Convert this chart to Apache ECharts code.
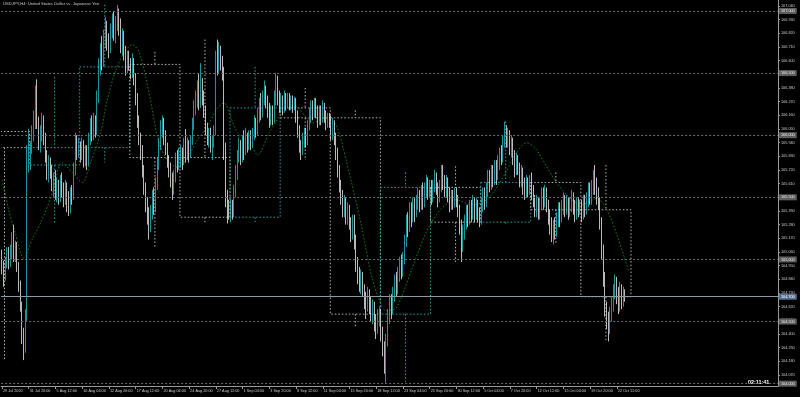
<!DOCTYPE html>
<html><head><meta charset="utf-8">
<script src="https://cdn.jsdelivr.net/npm/echarts@6/dist/echarts.min.js"></script>
<style>html,body{margin:0;padding:0;background:#000;}#c{width:800px;height:397px;}</style>
</head><body><div id="c"></div>
<script>
// H4 bars: [open, close, low, high]
const bars = [
[105.02,104.94,104.88,105.08],[104.94,104.86,104.78,104.99],[104.86,104.98,104.83,105.02],[104.98,105.06,104.93,105.10],
[105.06,104.97,104.92,105.10],[104.97,105.05,104.94,105.12],[105.05,105.12,105.00,105.22],[105.12,105.03,104.98,105.28],
[105.03,105.10,104.98,105.15],[105.10,104.95,104.90,105.14],[104.95,104.80,104.74,104.98],[104.80,104.62,104.58,104.83],
[104.62,104.40,104.32,104.66],[104.40,104.30,104.19,104.45],[104.30,104.55,104.25,104.60],[104.55,105.80,104.50,105.92],
[105.80,105.84,105.70,106.05],
[105.80,105.90,105.72,105.95],[105.90,106.00,105.85,106.08],[106.00,106.12,105.95,106.20],[106.12,106.30,106.05,106.40],
[106.30,106.10,106.05,106.45],[106.10,105.94,105.88,106.15],[105.94,106.00,105.86,106.08],[106.00,106.12,105.95,106.18],
[106.12,105.98,105.92,106.16],[105.98,105.84,105.78,106.02],[105.84,105.70,105.64,105.88],[105.70,105.78,105.62,105.84],
[105.78,105.70,105.65,105.82],[105.70,105.60,105.55,105.76],[105.60,105.66,105.50,105.70],[105.66,105.52,105.48,105.72],
[105.52,105.60,105.46,105.66],[105.60,105.50,105.44,105.64],[105.50,105.62,105.46,105.68],[105.62,105.56,105.50,105.70],
[105.56,105.48,105.42,105.62],[105.48,105.58,105.44,105.64],[105.58,105.50,105.38,105.62],[105.50,105.42,105.35,105.55],
[105.42,105.55,105.37,105.58],[105.55,105.50,105.44,105.60],[105.50,105.72,105.48,105.78],[105.72,105.95,105.68,106.02],
[105.95,105.86,105.80,106.00],[105.86,105.92,105.82,105.98],
[105.90,105.85,105.78,105.95],[105.85,105.92,105.80,105.98],[105.92,105.80,105.74,105.96],[105.80,105.88,105.75,105.92],
[105.88,105.78,105.72,105.92],[105.78,105.96,105.75,106.02],[105.96,106.08,105.92,106.14],[106.08,106.00,105.95,106.16],
[106.00,106.12,105.96,106.18],[106.12,106.04,105.98,106.16],[106.04,106.30,106.00,106.36],[106.30,106.55,106.26,106.62],
[106.55,106.66,106.48,106.74],[106.66,106.60,106.52,106.80],[106.60,106.78,106.55,106.85],[106.78,106.88,106.70,106.95],
[106.88,106.74,106.68,106.92],[106.74,106.70,106.62,106.82],[106.70,106.84,106.66,106.90],[106.84,106.92,106.78,106.98],
[106.92,106.80,106.76,107.00],[106.80,106.90,106.74,106.96],[106.90,106.96,106.84,107.05],[106.96,106.88,106.80,107.02],
[106.88,106.72,106.66,106.94],[106.72,106.80,106.64,106.86],[106.80,106.66,106.60,106.84],[106.66,106.56,106.48,106.72],
[106.56,106.62,106.50,106.68],[106.62,106.58,106.52,106.68],
[106.58,106.52,106.45,106.62],[106.52,106.58,106.46,106.66],[106.58,106.46,106.40,106.62],[106.46,106.30,106.24,106.50],
[106.30,106.12,106.06,106.34],[106.12,105.98,105.92,106.16],[105.98,105.88,105.80,106.02],[105.88,105.72,105.66,105.92],
[105.72,105.58,105.52,105.76],[105.58,105.44,105.38,105.62],[105.44,105.36,105.28,105.50],[105.36,105.30,105.16,105.42],
[105.30,105.38,105.22,105.44],[105.38,105.50,105.32,105.56],[105.50,105.42,105.36,105.58],[105.42,105.60,105.38,105.66],
[105.60,105.76,105.56,105.82],[105.76,105.92,105.72,105.98],[105.92,106.06,105.88,106.12],[106.06,106.10,105.98,106.16],
[106.10,105.98,105.92,106.14],[105.98,105.90,105.84,106.04],[105.90,105.80,105.74,105.94],[105.80,105.74,105.66,105.84],
[105.74,105.64,105.58,105.78],[105.64,105.58,105.48,105.70],[105.58,105.66,105.52,105.72],[105.66,105.80,105.62,105.86],
[105.80,105.76,105.70,105.88],[105.76,105.82,105.72,105.90],
[105.80,105.86,105.74,105.92],[105.86,105.80,105.72,105.90],[105.80,105.88,105.76,105.98],[105.88,105.84,105.78,106.05],
[105.84,105.92,105.80,105.98],[105.92,105.86,105.78,105.96],[105.86,105.96,105.82,106.00],[105.96,106.10,105.92,106.14],
[106.10,106.22,106.04,106.28],[106.22,106.30,106.16,106.36],[106.30,106.38,106.22,106.44],[106.38,106.26,106.20,106.50],
[106.26,106.40,106.22,106.58],[106.40,106.32,106.24,106.46],[106.32,106.20,106.14,106.36],[106.20,106.06,106.00,106.24],
[106.06,105.98,105.92,106.10],[105.98,106.02,105.90,106.06],[106.02,105.92,105.86,106.06],[105.92,105.96,105.80,106.00],
[105.96,106.04,105.90,106.08],[106.04,106.62,106.00,106.68],[106.62,106.56,106.48,106.77],[106.56,106.66,106.50,106.75],
[106.66,106.58,106.52,106.72],[106.58,106.50,106.44,106.64],[106.50,105.90,105.80,106.55],[105.90,105.50,105.42,105.94],
[105.50,105.40,105.29,105.56],[105.40,105.36,105.32,105.48],
[105.36,105.42,105.30,105.48],[105.42,105.38,105.32,105.48],[105.38,105.56,105.34,105.60],[105.56,105.70,105.50,105.76],
[105.70,105.84,105.64,105.88],[105.84,105.92,105.78,105.98],[105.92,105.84,105.76,105.96],[105.84,105.94,105.78,106.00],
[105.94,105.88,105.80,106.04],[105.88,105.98,105.84,106.06],[105.98,105.92,105.86,106.02],[105.92,106.00,105.88,106.04],
[106.00,105.94,105.88,106.04],[105.94,106.02,105.90,106.06],[106.02,106.10,105.96,106.16],[106.10,106.04,105.98,106.14],
[106.04,106.16,106.00,106.22],[106.16,106.24,106.10,106.30],[106.24,106.18,106.12,106.34],[106.18,106.30,106.14,106.36],
[106.30,106.36,106.24,106.44],[106.36,106.28,106.22,106.40],[106.28,106.22,106.14,106.32],[106.22,106.12,106.06,106.26],
[106.12,106.20,106.08,106.24],[106.20,106.14,106.08,106.24],[106.14,106.30,106.10,106.36],[106.30,106.42,106.24,106.50],
[106.42,106.30,106.24,106.48],[106.30,106.24,106.18,106.36],
[106.24,106.28,106.18,106.34],[106.28,106.22,106.16,106.32],[106.22,106.30,106.18,106.36],[106.30,106.26,106.20,106.34],
[106.26,106.30,106.22,106.34],[106.30,106.24,106.20,106.34],[106.24,106.28,106.20,106.32],[106.28,106.24,106.18,106.32],
[106.24,106.27,106.20,106.31],[106.27,106.16,106.10,106.30],[106.16,106.04,105.98,106.20],[106.04,105.92,105.86,106.08],
[105.92,105.88,105.80,105.96],[105.88,105.96,105.84,106.02],[105.96,106.02,105.90,106.06],[106.02,105.96,105.90,106.06],
[105.96,106.08,105.92,106.12],[106.08,106.16,106.04,106.22],[106.16,106.24,106.10,106.28],[106.24,106.18,106.12,106.28],
[106.18,106.26,106.14,106.30],[106.26,106.20,106.14,106.30],[106.20,106.12,106.06,106.24],[106.12,106.20,106.08,106.24],
[106.20,106.14,106.08,106.24],[106.14,106.22,106.10,106.28],[106.22,106.16,106.10,106.26],[106.16,106.10,106.04,106.20],
[106.10,106.14,106.06,106.18],[106.14,106.12,106.06,106.18],
[106.10,106.02,105.96,106.16],[106.02,106.08,105.96,106.14],[106.08,105.98,105.92,106.12],[105.98,105.86,105.80,106.02],
[105.86,105.72,105.66,105.90],[105.72,105.60,105.54,105.76],[105.60,105.52,105.44,105.64],[105.52,105.40,105.34,105.56],
[105.40,105.46,105.34,105.52],[105.46,105.34,105.28,105.50],[105.34,105.40,105.28,105.46],[105.40,105.30,105.24,105.44],
[105.30,105.20,105.14,105.34],[105.20,105.30,105.16,105.36],[105.30,105.16,105.08,105.36],[105.16,104.96,104.90,105.20],
[104.96,104.88,104.80,105.02],[104.88,104.80,104.74,104.94],[104.80,104.86,104.72,104.92],[104.86,104.76,104.70,104.90],
[104.76,104.68,104.60,104.80],[104.68,104.62,104.52,104.74],[104.62,104.72,104.58,104.78],[104.72,104.64,104.56,104.76],
[104.64,104.56,104.50,104.70],[104.56,104.62,104.48,104.68],[104.62,104.50,104.42,104.66],[104.50,104.44,104.36,104.56],
[104.44,104.54,104.40,104.60],[104.54,104.56,104.46,104.62],
[104.56,104.40,104.34,104.60],[104.40,104.30,104.22,104.46],[104.30,104.18,104.08,104.34],[104.18,104.36,104.00,104.40],
[104.36,104.54,104.30,104.60],[104.54,104.66,104.48,104.72],[104.66,104.60,104.52,104.72],[104.60,104.72,104.56,104.78],
[104.72,104.82,104.66,104.88],[104.82,104.76,104.70,104.90],[104.76,104.88,104.72,104.94],[104.88,104.96,104.82,105.02],
[104.96,104.90,104.84,105.04],[104.90,105.00,104.86,105.06],[105.00,105.14,104.96,105.20],[105.14,105.30,105.10,105.36],
[105.30,105.26,105.18,105.38],[105.26,105.40,105.22,105.46],[105.40,105.34,105.26,105.46],[105.34,105.44,105.30,105.50],
[105.44,105.38,105.30,105.50],[105.38,105.46,105.34,105.52],[105.46,105.52,105.40,105.58],[105.52,105.44,105.38,105.56],
[105.44,105.54,105.40,105.60],[105.54,105.48,105.40,105.62],[105.48,105.56,105.42,105.62],[105.56,105.62,105.50,105.68],
[105.62,105.54,105.48,105.66],[105.54,105.58,105.50,105.64],
[105.58,105.50,105.44,105.64],[105.50,105.58,105.46,105.64],[105.58,105.66,105.54,105.72],[105.66,105.58,105.52,105.70],
[105.58,105.50,105.42,105.62],[105.50,105.58,105.46,105.64],[105.58,105.70,105.54,105.76],[105.70,105.64,105.56,105.76],
[105.64,105.56,105.50,105.68],[105.56,105.62,105.50,105.68],[105.62,105.54,105.46,105.66],[105.54,105.44,105.38,105.58],
[105.44,105.52,105.40,105.56],[105.52,105.46,105.40,105.56],[105.46,105.54,105.42,105.58],[105.54,105.48,105.42,105.58],
[105.48,105.40,105.34,105.52],[105.40,105.28,105.20,105.44],[105.28,105.14,104.98,105.32],[105.14,105.22,105.06,105.28],
[105.22,105.30,105.16,105.36],[105.30,105.38,105.24,105.44],[105.38,105.32,105.26,105.44],[105.32,105.42,105.28,105.48],
[105.42,105.36,105.30,105.48],[105.36,105.46,105.32,105.52],[105.46,105.38,105.30,105.50],[105.38,105.44,105.32,105.50],
[105.44,105.36,105.30,105.48],[105.36,105.32,105.26,105.42],
[105.32,105.44,105.28,105.50],[105.44,105.52,105.38,105.58],[105.52,105.46,105.40,105.58],[105.46,105.56,105.42,105.62],
[105.56,105.66,105.50,105.72],[105.66,105.60,105.54,105.72],[105.60,105.70,105.56,105.76],[105.70,105.64,105.58,105.76],
[105.64,105.74,105.60,105.80],[105.74,105.68,105.60,105.80],[105.68,105.78,105.64,105.84],[105.78,105.86,105.72,105.90],
[105.86,105.82,105.76,105.92],[105.82,105.94,105.78,106.00],[105.94,106.04,105.90,106.11],[106.04,105.96,105.90,106.08],
[105.96,106.02,105.90,106.06],[106.02,105.92,105.84,106.04],[105.92,105.96,105.82,106.00],[105.96,105.84,105.76,105.98],
[105.84,105.72,105.66,105.88],[105.72,105.80,105.68,105.86],[105.80,105.74,105.68,105.84],[105.74,105.64,105.58,105.78],
[105.64,105.70,105.58,105.76],[105.70,105.60,105.52,105.74],[105.60,105.54,105.48,105.66],[105.54,105.62,105.50,105.68],
[105.62,105.56,105.50,105.66],[105.56,105.62,105.52,105.68],
[105.62,105.56,105.48,105.70],[105.56,105.48,105.42,105.60],[105.48,105.40,105.34,105.52],[105.40,105.46,105.34,105.52],
[105.46,105.38,105.32,105.50],[105.38,105.44,105.32,105.50],[105.44,105.52,105.40,105.58],[105.52,105.46,105.40,105.58],
[105.46,105.54,105.42,105.60],[105.54,105.44,105.38,105.58],[105.44,105.34,105.28,105.48],[105.34,105.28,105.20,105.40],
[105.28,105.20,105.14,105.34],[105.20,105.28,105.12,105.32],[105.28,105.22,105.16,105.34],[105.22,105.32,105.18,105.38],
[105.32,105.40,105.26,105.46],[105.40,105.34,105.26,105.46],[105.34,105.42,105.30,105.48],[105.42,105.48,105.36,105.54],
[105.48,105.40,105.34,105.52],[105.40,105.46,105.36,105.52],[105.46,105.38,105.32,105.50],[105.38,105.44,105.34,105.50],
[105.44,105.50,105.38,105.56],[105.50,105.42,105.36,105.54],[105.42,105.38,105.30,105.48],[105.38,105.46,105.32,105.50],
[105.46,105.40,105.34,105.50],[105.40,105.42,105.36,105.48],
[105.42,105.38,105.30,105.48],[105.38,105.46,105.32,105.52],[105.46,105.40,105.34,105.52],[105.40,105.48,105.36,105.54],
[105.48,105.56,105.42,105.62],[105.56,105.50,105.44,105.62],[105.50,105.58,105.44,105.64],[105.58,105.66,105.52,105.72],
[105.66,105.60,105.52,105.76],[105.60,105.52,105.44,105.66],[105.52,105.46,105.40,105.58],[105.46,105.30,105.24,105.50],
[105.30,105.08,105.00,105.34],[105.08,104.86,104.78,105.12],[104.86,104.62,104.54,104.90],[104.62,104.52,104.44,104.66],
[104.52,104.44,104.34,104.58],[104.44,104.56,104.40,104.62],[104.56,104.64,104.50,104.70],[104.64,104.74,104.58,104.80],
[104.74,104.82,104.68,104.88],[104.82,104.72,104.64,104.86],[104.72,104.64,104.56,104.78],[104.64,104.76,104.58,104.82],
[104.76,104.68,104.60,104.80],[104.68,104.74,104.62,104.78],[104.74,104.70,104.66,104.76]
];
// x-axis tick labels (bar index -> text)
const xTickIdx = [0,16,32,48,64,80,96,112,128,144,160,176,192,208,224,240,256,272,288,304,320,336,352,368];
const xTickText = ['29 Jul 2020','31 Jul 20:00','5 Aug 12:00','10 Aug 04:00','12 Aug 20:00','17 Aug 12:00','20 Aug 04:00','24 Aug 20:00','27 Aug 12:00','1 Sep 04:00','3 Sep 20:00','8 Sep 12:00','11 Sep 04:00','15 Sep 20:00','18 Sep 12:00','23 Sep 04:00','25 Sep 20:00','30 Sep 12:00','5 Oct 04:00','7 Oct 20:00','12 Oct 12:00','15 Oct 04:00','19 Oct 20:00','22 Oct 12:00'];
// price scale tick labels
const yTickVals = [107.040,106.930,106.820,106.710,106.600,106.490,106.380,106.270,106.160,106.050,105.940,105.830,105.720,105.610,105.500,105.390,105.280,105.170,105.060,104.950,104.840,104.730,104.620,104.510,104.400,104.290,104.180,104.070];
// horizontal levels
const levels = [107.0,106.5,106.0,105.5,105.0,104.5,104.0];
// weekly candles overlay: first bar, last bar, open, close, high, low
const weekFirst = [-13,17,47,77,107,137,167,197,227,257,287,317,347];
const weekLast  = [16,46,76,106,136,166,196,226,256,286,316,346,376];
const wOpen  = [106.03,105.76,105.90,106.57,105.82,105.34,106.22,106.14,104.56,105.58,105.30,105.62,105.40];
const wClose = [105.90,105.90,106.55,105.82,105.34,106.22,106.14,104.56,105.58,105.30,105.62,105.40,104.70];
const wHigh  = [106.03,106.47,107.05,106.67,106.77,106.55,106.38,106.20,105.70,105.75,106.11,105.70,105.76];
const wLow   = [104.19,105.29,105.78,105.10,105.29,105.30,105.80,104.45,104.00,104.98,105.28,105.12,104.34];
// moving average (bar index, value)
const maIdx = [0,4,8,13,18,24,30,36,42,48,53,59,63,68,73,78,82,86,90,94,100,106,111,117,123,129,133,137,141,149,153,160,168,176,181,186,194,200,206,215,222,230,236,245,254,263,272,281,290,299,308,314,320,329,338,347,356,362,368,375];
const maVal = [105.64,105.40,105.21,105.01,105.16,105.32,105.53,105.78,105.70,105.62,105.78,106.02,106.28,106.52,106.66,106.73,106.67,106.47,106.20,105.94,105.78,105.74,105.82,105.96,106.07,106.22,106.26,106.14,106.02,105.92,105.84,106.02,106.18,106.23,106.16,106.10,106.14,106.08,105.80,105.28,104.83,104.59,104.61,104.91,105.22,105.41,105.48,105.44,105.48,105.64,105.86,105.94,105.88,105.68,105.52,105.44,105.49,105.40,105.20,104.91];

const SLOTS = 465;
const categories = Array.from({length: SLOTS}, (_, i) => String(i));
const labelMap = {}; xTickIdx.forEach((k, j) => { labelMap[k] = xTickText[j]; });
const weekData = weekFirst.map((f, j) => [f, weekLast[j], wOpen[j], wClose[j], wHigh[j], wLow[j]]);
const maData = maIdx.map((k, j) => [k, maVal[j]]);
const lastClose = bars[bars.length - 1][1];

const FONT = 'Liberation Sans';
const chart = echarts.init(document.getElementById('c'), null, {renderer: 'canvas'});
chart.setOption({
  backgroundColor: '#000000',
  animation: false,
  grid: {left: 0, right: 22, top: 0, bottom: 11},
  xAxis: {
    type: 'category', data: categories, boundaryGap: true,
    axisLine: {lineStyle: {color: '#9a9a9a', width: 1}},
    axisTick: {show: true, alignWithLabel: true, length: 3, lineStyle: {color: '#9a9a9a'},
      interval: (i) => labelMap[i] !== undefined},
    axisLabel: {show: true, interval: (i) => labelMap[i] !== undefined,
      formatter: (v, i) => labelMap[i] || '', color: '#c8c8c8', fontSize: 3.8, fontFamily: FONT,
      align: 'left', margin: 3, padding: [0,0,0,1]},
    splitLine: {show: false}
  },
  yAxis: {
    type: 'value', position: 'right', min: 103.9815, max: 107.0883, scale: true,
    axisLine: {show: true, lineStyle: {color: '#9a9a9a', width: 1}},
    axisTick: {show: true, length: 2, lineStyle: {color: '#9a9a9a'}, customValues: yTickVals},
    axisLabel: {show: true, customValues: yTickVals, formatter: (v) => v.toFixed(3),
      color: '#c8c8c8', fontSize: 3.8, fontFamily: FONT, margin: 3},
    splitLine: {show: false}
  },
  graphic: [
    {type: 'text', left: 3, top: 2, style: {text: 'USDJPY,H4: United States Dollar vs. Japanese Yen', fill: '#c8c8c8', font: '4.2px "Liberation Sans"'}},
    {type: 'text', left: 748, top: 380, style: {text: '02:11:41', fill: '#ffffff', font: 'bold 5.4px "Liberation Sans"'}}
  ],
  series: [
    {
      type: 'custom', z: 1, clip: true,
      data: weekData,
      renderItem: function (params, api) {
        const f = api.value(0), l = api.value(1), o = api.value(2), c = api.value(3), h = api.value(4), lo = api.value(5);
        const bw = api.size([1, 0])[0];
        const pa = api.coord([f, o]);
        const pb = api.coord([l, c]);
        const x1 = pa[0] - bw / 2, x2 = pb[0] + bw / 2;
        const yO = pa[1], yC = pb[1];
        const yH = api.coord([f, h])[1], yL = api.coord([f, lo])[1];
        const col = c >= o ? '#1e9ea6' : '#b4b4b4';
        const xc = (x1 + x2) / 2;
        const st = {stroke: col, fill: null, lineWidth: 1, lineDash: [1.5, 2]};
        return {type: 'group', children: [
          {type: 'rect', shape: {x: x1, y: Math.min(yO, yC), width: x2 - x1, height: Math.abs(yO - yC)}, style: st},
          {type: 'line', shape: {x1: xc, y1: yH, x2: xc, y2: Math.min(yO, yC)}, style: st},
          {type: 'line', shape: {x1: xc, y1: Math.max(yO, yC), x2: xc, y2: yL}, style: st}
        ]};
      }
    },
    {
      type: 'line', z: 2, data: maData, showSymbol: false, smooth: 0.3,
      lineStyle: {color: '#0b8a0b', width: 1, type: [1.5, 2]}
    },
    {
      type: 'candlestick', z: 3, data: bars, barWidth: 1.2,
      itemStyle: {color: '#26b9c2', color0: '#e8e8e8', borderColor: '#26b9c2', borderColor0: '#e8e8e8', borderWidth: 0.8},
      markLine: {
        silent: true, symbol: ['none', 'none'], animation: false,
        data: levels.map(v => ({yAxis: v, lineStyle: {color: '#6a6a6a', width: 1, type: [2, 2]},
            label: {show: true, position: 'end', distance: 1, formatter: v.toFixed(3), color: '#e6e6e6',
              backgroundColor: '#5e5e5e', padding: [1, 2], fontSize: 3.8, fontFamily: FONT}}))
          .concat([{yAxis: lastClose, lineStyle: {color: '#8f99a6', width: 1, type: 'solid'},
            label: {show: true, position: 'end', distance: 1, formatter: lastClose.toFixed(3), color: '#ffffff',
              backgroundColor: '#56708f', padding: [1, 2], fontSize: 3.8, fontFamily: FONT}}])
      }
    }
  ]
});
</script>
</body></html>
